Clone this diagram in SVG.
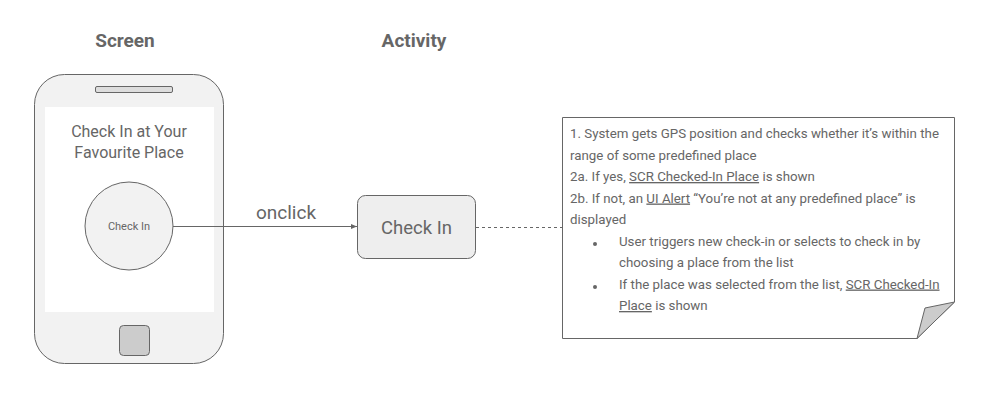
<svg xmlns="http://www.w3.org/2000/svg" width="1001" height="414" viewBox="0 0 1001 414">
<style>
text{font-family:Roboto,"Liberation Sans",sans-serif;fill:#666}
.hd{font-size:19px;font-weight:bold;text-anchor:middle}
.n{font-size:13.3px}
.u{text-decoration:underline}
</style>
<defs>
<marker id="ah" markerWidth="8" markerHeight="8" refX="7" refY="4" orient="auto" markerUnits="userSpaceOnUse">
<path d="M1,1.5 L7,4 L1,6.5 z" fill="#666"/>
</marker>
</defs>
<rect width="1001" height="414" fill="#fff"/>
<g id="headers">
<text class="hd" x="125" y="47">Screen</text>
<text class="hd" x="414" y="47">Activity</text>
</g>
<g id="phone">
<rect x="34.5" y="74.5" width="189" height="289" rx="30" fill="#f2f2f2" stroke="#666"/>
<rect x="95.5" y="86.5" width="77" height="6" rx="1.5" fill="#ddd" stroke="#666"/>
<rect x="45" y="107" width="169" height="205" fill="#fff"/>
<rect x="119.5" y="325.5" width="30" height="30" rx="4" fill="#ccc" stroke="#666"/>
<text x="129" y="137" font-size="16" text-anchor="middle">Check In at Your</text>
<text x="129" y="158" font-size="16" text-anchor="middle">Favourite Place</text>
</g>
<g id="btn">
<circle cx="129" cy="226" r="44" fill="#f2f2f2" stroke="#666"/>
<text x="129" y="230" font-size="11" text-anchor="middle">Check In</text>
</g>
<g id="connectors">
<line x1="173" y1="226.5" x2="357" y2="226.5" stroke="#666" marker-end="url(#ah)"/>
<text x="286" y="219" font-size="19" text-anchor="middle">onclick</text>
<line x1="476" y1="227.5" x2="562" y2="227.5" stroke="#666" stroke-dasharray="3,3"/>
</g>
<g id="activity">
<rect x="357.5" y="195.5" width="118" height="63" rx="8" fill="#eee" stroke="#666"/>
<text x="416.5" y="234" font-size="18.5" text-anchor="middle">Check In</text>
</g>
<g id="note">
<path d="M562.5,117.5 H954.5 V302 L917,338.5 H562.5 Z" fill="#fff" stroke="#666"/>
<path d="M954.5,302 L925,308 L917,338.5 Z" fill="#ccc" stroke="#666" stroke-linejoin="round"/>
<text class="n" x="570" y="138">1. System gets GPS position and checks whether it’s within the</text>
<text class="n" x="570" y="159.5">range of some predefined place</text>
<text class="n" x="570" y="181">2a. If yes, <tspan class="u">SCR Checked-In Place</tspan> is shown</text>
<text class="n" x="570" y="202.5">2b. If not, an <tspan class="u">UI Alert</tspan> “You’re not at any predefined place” is</text>
<text class="n" x="570" y="224">displayed</text>
<circle cx="595" cy="244" r="2" fill="#666"/>
<text class="n" x="619" y="245.5">User triggers new check-in or selects to check in by</text>
<text class="n" x="619" y="267">choosing a place from the list</text>
<circle cx="595" cy="287" r="2" fill="#666"/>
<text class="n" x="619" y="288.5">If the place was selected from the list, <tspan class="u">SCR Checked-In</tspan></text>
<text class="n" x="619" y="310"><tspan class="u">Place</tspan> is shown</text>
</g>
</svg>
